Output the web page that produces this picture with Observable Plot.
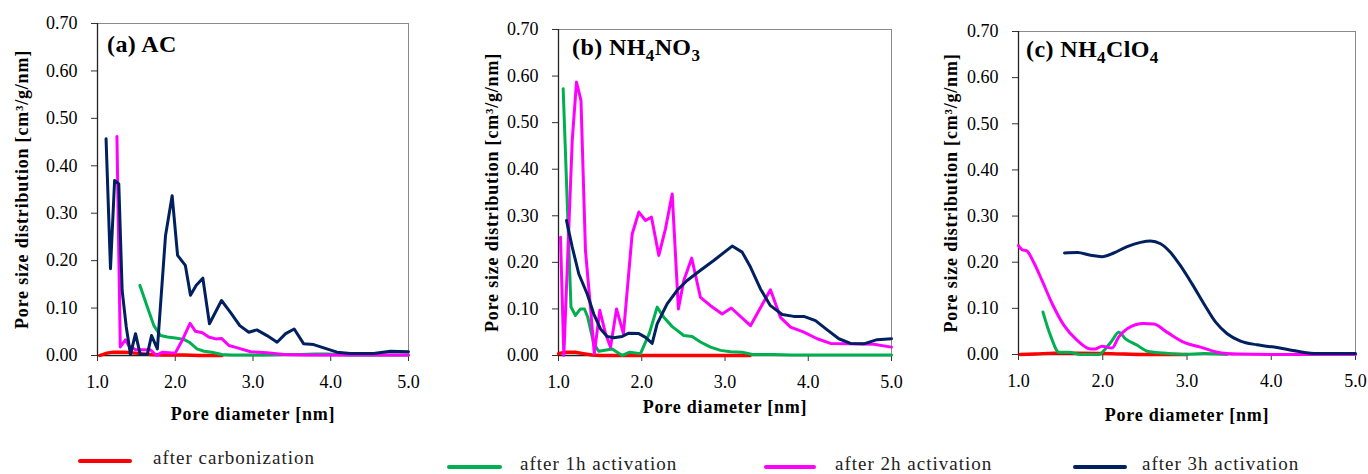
<!DOCTYPE html>
<html><head><meta charset="utf-8">
<script src="https://cdn.jsdelivr.net/npm/d3@7"></script>
<script src="https://cdn.jsdelivr.net/npm/@observablehq/plot@0.6"></script>
<style>
body{margin:0;background:#fff;width:1368px;height:474px;overflow:hidden;position:relative;font-family:"Liberation Serif",serif;}
.panel{position:absolute;top:0;}
.panel svg{font-family:"Liberation Serif",serif !important;font-size:18px !important;color:#000 !important;}
.panel svg text{font-family:"Liberation Serif",serif !important;}
.leg{position:absolute;font-size:19px;letter-spacing:1px;color:#222;white-space:nowrap;line-height:19px}
.sw{position:absolute;height:4px;border-radius:2px}
</style></head><body>
<div id="pa" class="panel" style="left:0px"></div>
<div id="pb" class="panel" style="left:460px"></div>
<div id="pc" class="panel" style="left:918px"></div>
<div id="legend"></div>
<script>
// ---- Series names, colours, tick labels ----
const seriesNames = ["after carbonization", "after 1h activation", "after 2h activation", "after 3h activation"];
const seriesColors = ["#ff0000", "#00b050", "#ff00ff", "#002060"];
const xTicks = [1, 2, 3, 4, 5];
const yTicks = [0, 0.1, 0.2, 0.3, 0.4, 0.5, 0.6, 0.7];
const xLabel = "Pore diameter [nm]";
const yLabel = "Pore size distribution [cm³/g/nm]";

// ---- Panel (a) AC ----
const a_carb_d = [1.03,1.12,1.2,1.27,1.35,1.42,1.55,1.68,1.85,2.0,2.11,2.3,2.6];
const a_carb_v = [0,0.005,0.007,0.007,0.007,0.006,0.004,0.002,0.001,0.001,0.001,0,0];
const a_1h_d = [1.545,1.64,1.725,1.81,1.9,2.0,2.11,2.18,2.28,2.37,2.47,2.6,2.72,2.9,3.15,3.4,3.61,3.8,3.95,4.1,4.25,4.5,4.75,5.0];
const a_1h_v = [0.148,0.103,0.063,0.042,0.039,0.037,0.034,0.028,0.014,0.009,0.007,0.002,0.001,0.001,0.001,0.002,0.002,0.003,0.003,0.002,0.001,0.001,0.001,0.001];
const a_2h_d = [1.25,1.293,1.36,1.40,1.49,1.55,1.62,1.68,1.76,1.83,1.92,2.0,2.09,2.19,2.26,2.35,2.43,2.52,2.595,2.69,2.80,2.97,3.18,3.4,3.7,4.0,4.5,5.0];
const a_2h_v = [0.462,0.018,0.033,0.021,0.012,0.012,0.012,0.012,0.0,0.007,0.006,0.005,0.032,0.068,0.051,0.048,0.039,0.035,0.036,0.021,0.016,0.008,0.006,0.002,0.001,0.001,0.001,0.001];
const a_3h_d = [1.11,1.167,1.22,1.274,1.317,1.37,1.424,1.489,1.55,1.64,1.695,1.77,1.875,1.96,2.03,2.13,2.196,2.27,2.355,2.44,2.595,2.71,2.83,2.946,3.05,3.18,3.31,3.42,3.53,3.65,3.78,3.91,4.08,4.25,4.55,4.77,5.0];
const a_3h_v = [0.457,0.183,0.369,0.362,0.137,0.06,0.002,0.046,0.002,0.002,0.042,0.014,0.253,0.337,0.211,0.19,0.127,0.148,0.163,0.067,0.116,0.091,0.063,0.049,0.054,0.042,0.028,0.046,0.056,0.025,0.023,0.016,0.007,0.004,0.004,0.009,0.008];

// ---- Panel (b) NH4NO3 ----
const b_carb_d = [1.0,1.05,1.1,1.2,1.3,1.4,1.5,1.7,2.0,2.5,3.0,3.3];
const b_carb_v = [0.004,0.006,0.007,0.007,0.004,0.001,0,0,0,0,0,0];
const b_1h_d = [1.056,1.15,1.204,1.264,1.312,1.352,1.424,1.485,1.645,1.765,1.857,1.985,2.09,2.185,2.265,2.366,2.505,2.605,2.705,2.826,2.946,3.066,3.205,3.33,3.58,3.8,4.0,4.5,5.0];
const b_1h_v = [0.573,0.104,0.086,0.100,0.100,0.082,0.025,0.009,0.014,0.0,0.007,0.004,0.047,0.104,0.082,0.062,0.043,0.041,0.029,0.018,0.011,0.008,0.007,0.002,0.002,0.001,0.001,0.001,0.001];
const b_2h_d = [1.024,1.064,1.165,1.216,1.27,1.324,1.384,1.43,1.496,1.565,1.625,1.697,1.78,1.885,1.965,2.045,2.117,2.205,2.285,2.366,2.44,2.505,2.6,2.705,2.826,2.966,3.075,3.306,3.546,3.666,3.787,3.947,4.108,4.267,4.507,4.787,5.0];
const b_2h_v = [0.254,0.0,0.462,0.587,0.548,0.225,0.104,0.004,0.097,0.047,0.018,0.100,0.047,0.261,0.308,0.290,0.297,0.215,0.272,0.347,0.100,0.161,0.209,0.125,0.107,0.089,0.102,0.064,0.141,0.082,0.061,0.050,0.036,0.026,0.025,0.024,0.018];
const b_3h_d = [1.096,1.165,1.244,1.345,1.424,1.505,1.585,1.664,1.765,1.845,1.965,2.045,2.125,2.185,2.305,2.425,2.545,2.706,2.865,3.086,3.206,3.306,3.426,3.546,3.687,3.826,3.947,4.087,4.228,4.368,4.507,4.667,4.827,5.0];
const b_3h_v = [0.290,0.233,0.175,0.132,0.089,0.057,0.041,0.038,0.041,0.048,0.047,0.039,0.026,0.068,0.111,0.140,0.161,0.183,0.204,0.235,0.222,0.190,0.143,0.107,0.088,0.084,0.084,0.075,0.055,0.036,0.026,0.025,0.034,0.036];

// ---- Panel (c) NH4ClO4 ----
const c_carb_d = [1.02,1.2,1.42,1.7,2.1,2.5,3.0];
const c_carb_v = [0.0,0.001,0.003,0.003,0.002,0.0,0.0];
const c_1h_d = [1.29,1.38,1.48,1.60,1.735,1.955,2.03,2.11,2.19,2.27,2.41,2.53,2.72,2.96,3.2,3.47];
const c_1h_v = [0.092,0.041,0.005,0.005,0.0,0.0,0.012,0.030,0.048,0.034,0.020,0.007,0.003,0.0,0.002,0.0];
const c_2h_d = [1.0,1.044,1.095,1.18,1.28,1.40,1.54,1.70,1.855,1.914,1.99,2.11,2.19,2.29,2.487,2.606,2.765,2.98,3.16,3.36,3.6,4.0,4.5,5.0];
const c_2h_v = [0.236,0.227,0.225,0.200,0.160,0.110,0.063,0.030,0.012,0.012,0.018,0.014,0.038,0.056,0.067,0.066,0.048,0.025,0.016,0.005,0.001,0,0,0];
const c_3h_d = [1.546,1.70,1.855,1.99,2.13,2.29,2.448,2.567,2.686,2.80,2.92,3.06,3.20,3.34,3.477,3.635,3.83,4.07,4.31,4.545,5.0];
const c_3h_v = [0.220,0.221,0.215,0.212,0.220,0.234,0.243,0.246,0.240,0.222,0.193,0.153,0.110,0.070,0.045,0.029,0.021,0.015,0.007,0.002,0.002];

function toRows(d, v) { return d.map((x, i) => ({d: x, v: v[i]})); }

const FONT = '"Liberation Serif", serif';

function panel(el, opt) {
  const {width, mL, mR, mT, mB, ylabDx, xlabDy, curve, series, title, tx, ty} = opt;
  const lines = series.map((s, i) => Plot.line(toRows(s[0], s[1]), {
    x: "d", y: "v", stroke: seriesColors[i], strokeWidth: i === 0 ? 3.4 : 3, curve
  }));
  const svg = Plot.plot({
    width, height: 440,
    marginLeft: mL, marginRight: mR, marginTop: mT, marginBottom: mB,
    style: {fontFamily: FONT, fontSize: "18px", color: "#000", background: "transparent"},
    x: {domain: [1, 5]},
    y: {domain: [0, 0.7]},
    marks: [
      Plot.frame({stroke: "#8a8a8a", strokeWidth: 1}),
      Plot.axisY({ticks: yTicks, tickFormat: d3.format(".2f"), tickSize: 6, tickPadding: 14, stroke: "#333", fontSize: 18, label: null}),
      Plot.axisX({ticks: xTicks, tickFormat: d3.format(".1f"), tickSize: 6, tickPadding: 14, stroke: "#333", fontSize: 18, label: null}),
      Plot.ruleY([0], {stroke: "#222", strokeWidth: 1.3}),
      Plot.ruleX([1], {stroke: "#222", strokeWidth: 1.3}),
      ...lines,
      Plot.text([yLabel], {text: d => d, frameAnchor: "left", dx: ylabDx, rotate: -90, fontWeight: "bold", fontSize: 18, textAnchor: "middle", lineAnchor: "middle"}),
      Plot.text([xLabel], {text: d => d, frameAnchor: "bottom", dy: xlabDy, fontWeight: "bold", fontSize: 18, textAnchor: "middle", lineAnchor: "middle"})
    ]
  });
  d3.select(svg).selectAll("g[aria-label='text'] text").style("letter-spacing", "0.8px");
  const t = d3.select(svg).append("text").attr("x", tx).attr("y", ty)
    .attr("text-anchor", "start")
    .attr("font-weight", "bold").attr("font-size", 24).style("font-family", FONT)
    .attr("fill", "#000").style("letter-spacing", "0.4px");
  let prevSub = false;
  for (const [s, sub] of title) {
    const ts = t.append("tspan").text(s);
    if (sub) { ts.attr("font-size", 17).attr("dy", 6); }
    else if (prevSub) { ts.attr("dy", -6); }
    prevSub = sub;
  }
  document.getElementById(el).appendChild(svg);
}

panel("pa", {width: 430, mL: 97, mR: 22, mT: 23, mB: 85, ylabDx: -75, xlabDy: 59, curve: "linear",
  series: [[a_carb_d, a_carb_v], [a_1h_d, a_1h_v], [a_2h_d, a_2h_v], [a_3h_d, a_3h_v]],
  title: [["(a) AC", false]], tx: 107, ty: 52});
panel("pb", {width: 450, mL: 98, mR: 19, mT: 29, mB: 85, ylabDx: -66, xlabDy: 52, curve: "linear",
  series: [[b_carb_d, b_carb_v], [b_1h_d, b_1h_v], [b_2h_d, b_2h_v], [b_3h_d, b_3h_v]],
  title: [["(b) NH", false], ["4", true], ["NO", false], ["3", true]], tx: 112, ty: 55});
panel("pc", {width: 450, mL: 100, mR: 13, mT: 31, mB: 86, ylabDx: -67, xlabDy: 61, curve: "monotone-x",
  series: [[c_carb_d, c_carb_v], [c_1h_d, c_1h_v], [c_2h_d, c_2h_v], [c_3h_d, c_3h_v]],
  title: [["(c) NH", false], ["4", true], ["ClO", false], ["4", true]], tx: 108, ty: 57});

// ---- Legend ----
const legPos = [
  {lx: 78, lw: 54, ly: 459, tx: 153, ty: 448},
  {lx: 447, lw: 55, ly: 465, tx: 520, ty: 454},
  {lx: 764, lw: 52, ly: 465, tx: 835, ty: 454},
  {lx: 1073, lw: 54, ly: 465, tx: 1142, ty: 454}
];
const leg = document.getElementById("legend");
seriesNames.forEach((name, i) => {
  const p = legPos[i];
  const sw = document.createElement("div");
  sw.className = "sw";
  sw.style.cssText = `left:${p.lx}px;top:${p.ly}px;width:${p.lw}px;background:${seriesColors[i]}`;
  leg.appendChild(sw);
  const tx = document.createElement("div");
  tx.className = "leg";
  tx.style.left = p.tx + "px"; tx.style.top = p.ty + "px";
  tx.textContent = name;
  leg.appendChild(tx);
});
</script>
</body></html>
